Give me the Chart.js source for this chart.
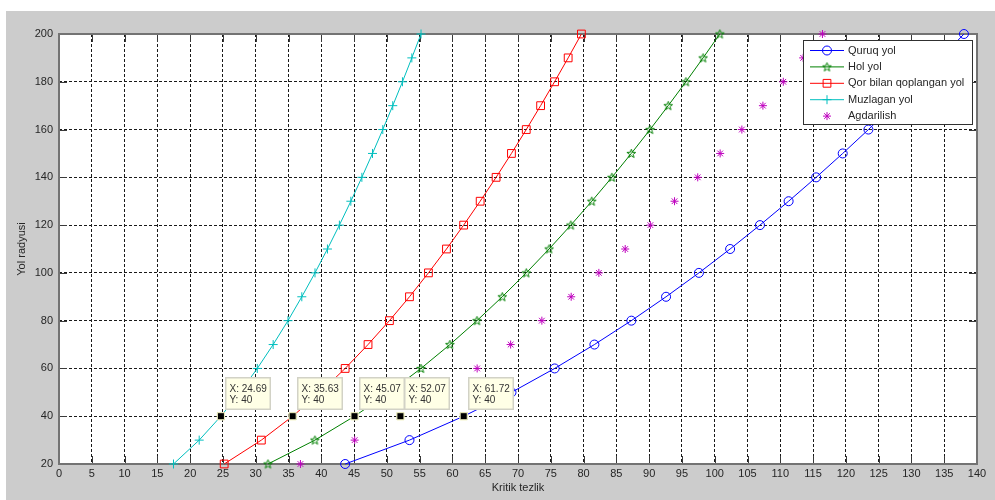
<!DOCTYPE html>
<html><head><meta charset="utf-8">
<script src="https://cdn.jsdelivr.net/npm/chart.js@4.4.1/dist/chart.umd.min.js"></script>
<style>
html,body{margin:0;padding:0;background:#fff;width:995px;height:500px;overflow:hidden}
#wrap{position:absolute;left:6px;top:11px;width:989px;height:489px;background:#cccccc}
canvas{display:block}
</style></head><body>
<div id="wrap"><canvas id="c" width="989" height="489"></canvas></div>
<script>
// ---- data ----
const seriesNames = ['Quruq yol', 'Hol yol', 'Qor bilan qoplangan yol', 'Muzlagan yol', 'Agdarilish'];
const radii = [20, 30, 40, 50, 60, 70, 80, 90, 100, 110, 120, 130, 140, 150, 160, 170, 180, 190, 200];
const quruqYol = [43.64, 53.45, 61.72, 69.01, 75.59, 81.65, 87.29, 92.58, 97.59, 102.35, 106.90, 111.27, 115.47, 119.52, 123.44, 127.24, 130.93, 134.52, 138.01];
const holYol = [31.87, 39.03, 45.07, 50.39, 55.20, 59.62, 63.74, 67.60, 71.26, 74.74, 78.06, 81.25, 84.32, 87.28, 90.14, 92.91, 95.61, 98.23, 100.78];
const qorYol = [25.19, 30.86, 35.63, 39.84, 43.64, 47.13, 50.39, 53.45, 56.34, 59.09, 61.71, 64.23, 66.66, 69.00, 71.26, 73.45, 75.58, 77.65, 79.67];
const muzlaganYol = [17.46, 21.38, 24.69, 27.60, 30.24, 32.66, 34.92, 37.03, 39.04, 40.94, 42.76, 44.51, 46.19, 47.81, 49.38, 50.90, 52.38, 53.81, 55.21];
const agdarilish = [36.82, 45.09, 52.07, 58.22, 63.77, 68.88, 73.64, 78.11, 82.33, 86.35, 90.19, 93.87, 97.41, 100.83, 104.14, 107.35, 110.46, 113.49, 116.43];
const xTicks = [0, 5, 10, 15, 20, 25, 30, 35, 40, 45, 50, 55, 60, 65, 70, 75, 80, 85, 90, 95, 100, 105, 110, 115, 120, 125, 130, 135, 140];
const yTicks = [20, 40, 60, 80, 100, 120, 140, 160, 180, 200];
const xTitle = 'Kritik tezlik';
const yTitle = 'Yol radyusi';
const tipRadius = 40;

// ---- styling ----
const FONT = "'Liberation Sans', Arial, sans-serif";
const TEXT = '#262626';
const tipIdx = radii.indexOf(tipRadius);

function pentagram(color) {
  const c = document.createElement('canvas');
  c.width = 11; c.height = 11;
  const g = c.getContext('2d');
  g.strokeStyle = color; g.lineWidth = 1;
  g.beginPath();
  for (let i = 0; i < 10; i++) {
    const r = i % 2 === 0 ? 4.6 : 1.9;
    const a = -Math.PI / 2 + i * Math.PI / 5;
    const px = 5.5 + r * Math.cos(a), py = 5.8 + r * Math.sin(a);
    if (i === 0) g.moveTo(px, py); else g.lineTo(px, py);
  }
  g.closePath(); g.stroke();
  return c;
}

const specs = [
  {vals: quruqYol, color: '#0000ff', style: 'circle', r: 4.5, line: true},
  {vals: holYol, color: '#008000', style: pentagram('#008000'), r: 4.5, line: true},
  {vals: qorYol, color: '#ff0000', style: 'rect', r: 5.5, line: true},
  {vals: muzlaganYol, color: '#00bfbf', style: 'cross', r: 4.5, line: true},
  {vals: agdarilish, color: '#bf00bf', style: 'star', r: 4, line: false}
];

const datasets = specs.map((s, k) => ({
  label: seriesNames[k],
  data: radii.map((r, i) => ({x: s.vals[i], y: r})),
  showLine: s.line,
  borderColor: s.color,
  borderWidth: 1,
  tension: 0,
  clip: false,
  baseStyle: s.style,
  baseRadius: s.r,
  pointStyle: (c) => c.dataIndex === tipIdx ? 'rect' : s.style,
  pointRadius: (c) => c.dataIndex === tipIdx ? 5 : s.r,
  pointBackgroundColor: (c) => c.dataIndex === tipIdx ? '#000000' : 'rgba(0,0,0,0)',
  pointBorderColor: (c) => c.dataIndex === tipIdx ? '#f3f3c4' : s.color,
  pointBorderWidth: 1,
  pointHoverRadius: (c) => c.dataIndex === tipIdx ? 5 : s.r
}));

// white plot area
const bgPlugin = {
  id: 'plotBg',
  beforeDraw(chart) {
    const {ctx, chartArea: a} = chart;
    ctx.save(); ctx.fillStyle = '#ffffff';
    ctx.fillRect(a.left, a.top, a.right - a.left, a.bottom - a.top);
    ctx.restore();
  }
};

// frame + inward ticks (MATLAB style)
const framePlugin = {
  id: 'frame',
  beforeDatasetsDraw(chart) {
    const {ctx, chartArea: a, scales} = chart;
    const tl = 8;
    ctx.save();
    ctx.strokeStyle = '#3a3a3a'; ctx.lineWidth = 1;
    ctx.beginPath();
    xTicks.forEach(v => {
      const px = Math.round(scales.x.getPixelForValue(v)) + 0.5;
      ctx.moveTo(px, a.bottom); ctx.lineTo(px, a.bottom - tl);
      ctx.moveTo(px, a.top); ctx.lineTo(px, a.top + tl);
    });
    yTicks.forEach(v => {
      const py = Math.round(scales.y.getPixelForValue(v)) + 0.5;
      ctx.moveTo(a.left, py); ctx.lineTo(a.left + tl, py);
      ctx.moveTo(a.right, py); ctx.lineTo(a.right - tl, py);
    });
    ctx.stroke();
    ctx.strokeStyle = '#737373'; ctx.lineWidth = 2;
    ctx.strokeRect(a.left, a.top, a.right - a.left, a.bottom - a.top);
    ctx.restore();
  }
};

// legend box inside axes
const legendPlugin = {
  id: 'matLegend',
  afterDatasetsDraw(chart) {
    const {ctx, chartArea: a} = chart;
    const w = 169, h = 84;
    const x0 = a.right - 5 - w, y0 = a.top + 6;
    ctx.save();
    ctx.fillStyle = '#ffffff';
    ctx.fillRect(x0, y0, w, h);
    ctx.strokeStyle = '#303030'; ctx.lineWidth = 1;
    ctx.strokeRect(x0 + 0.5, y0 + 0.5, w, h);
    chart.data.datasets.forEach((ds, k) => {
      const cy = y0 + 10.5 + k * 16.4;
      if (ds.showLine) {
        ctx.strokeStyle = ds.borderColor; ctx.lineWidth = 1;
        ctx.beginPath(); ctx.moveTo(x0 + 7, cy); ctx.lineTo(x0 + 41, cy); ctx.stroke();
      }
      ctx.strokeStyle = ds.borderColor; ctx.fillStyle = 'rgba(0,0,0,0)'; ctx.lineWidth = 1;
      Chart.helpers.drawPoint(ctx, {pointStyle: ds.baseStyle, radius: ds.baseRadius, rotation: 0, borderWidth: 1}, x0 + 24, cy);
      ctx.fillStyle = TEXT;
      ctx.font = '11px ' + FONT;
      ctx.textBaseline = 'middle'; ctx.textAlign = 'left';
      ctx.fillText(ds.label, x0 + 45, cy);
    });
    ctx.restore();
  }
};

// data tips at R = tipRadius
const tipPlugin = {
  id: 'dataTips',
  afterDatasetsDraw(chart) {
    const {ctx} = chart;
    ctx.save();
    ctx.font = '10px ' + FONT;
    chart.data.datasets.forEach((ds, k) => {
      const pt = ds.data[tipIdx];
      const px = chart.scales.x.getPixelForValue(pt.x);
      const py = chart.scales.y.getPixelForValue(pt.y);
      const l1 = 'X: ' + pt.x.toFixed(2), l2 = 'Y: ' + pt.y;
      const tw = Math.max(ctx.measureText(l1).width, ctx.measureText(l2).width);
      const bw = Math.round(tw + 9), bh = 33;
      const bx = Math.round(px + 4), by = Math.round(py - 6 - bh);
      ctx.fillStyle = '#ffffe6';
      ctx.fillRect(bx, by, bw, bh);
      ctx.strokeStyle = '#d2d2c6'; ctx.lineWidth = 1.5;
      ctx.strokeRect(bx + 0.75, by + 0.75, bw - 1.5, bh - 1.5);
      ctx.fillStyle = '#333333';
      ctx.textBaseline = 'middle'; ctx.textAlign = 'left';
      ctx.fillText(l1, bx + 4.5, by + 12);
      ctx.fillText(l2, bx + 4.5, by + 23.5);
      ctx.fillStyle = '#000'; ctx.strokeStyle = '#f3f3c4'; ctx.lineWidth = 1;
      Chart.helpers.drawPoint(ctx, {pointStyle: 'rect', radius: 5, rotation: 0, borderWidth: 1}, px, py);
    });
    ctx.restore();
  }
};

Chart.defaults.font.family = FONT;
Chart.defaults.font.size = 11;
Chart.defaults.color = TEXT;

new Chart(document.getElementById('c'), {
  type: 'scatter',
  data: {datasets},
  options: {
    responsive: false,
    animation: false,
    events: [],
    layout: {padding: {left: 0, top: 23, right: 18, bottom: 0}},
    plugins: {legend: {display: false}, tooltip: {enabled: false}},
    scales: {
      x: {
        type: 'linear', min: 0, max: 140,
        afterBuildTicks: (s) => { s.ticks = xTicks.map(v => ({value: v})); },
        afterFit: (s) => { s.height = 36; },
        ticks: {padding: 3, color: TEXT, font: {size: 11}, maxRotation: 0, autoSkip: false,
          callback: (v) => String(v)},
        grid: {color: '#1a1a1a', lineWidth: 1, drawTicks: false},
        border: {display: false, dash: [3, 2]},
        title: {display: true, text: xTitle, color: TEXT, font: {size: 11}, padding: {top: 0, bottom: 5.4}}
      },
      y: {
        type: 'linear', min: 20, max: 200,
        afterBuildTicks: (s) => { s.ticks = yTicks.map(v => ({value: v})); },
        afterFit: (s) => { s.width = 53; },
        ticks: {padding: 6, color: TEXT, font: {size: 11}, autoSkip: false,
          callback: (v) => String(v)},
        grid: {color: '#1a1a1a', lineWidth: 1, drawTicks: false},
        border: {display: false, dash: [3, 2]},
        title: {display: true, text: yTitle, color: TEXT, font: {size: 11}, padding: {top: 9.4, bottom: 0}}
      }
    }
  },
  plugins: [bgPlugin, framePlugin, legendPlugin, tipPlugin]
});
</script>
</body></html>
